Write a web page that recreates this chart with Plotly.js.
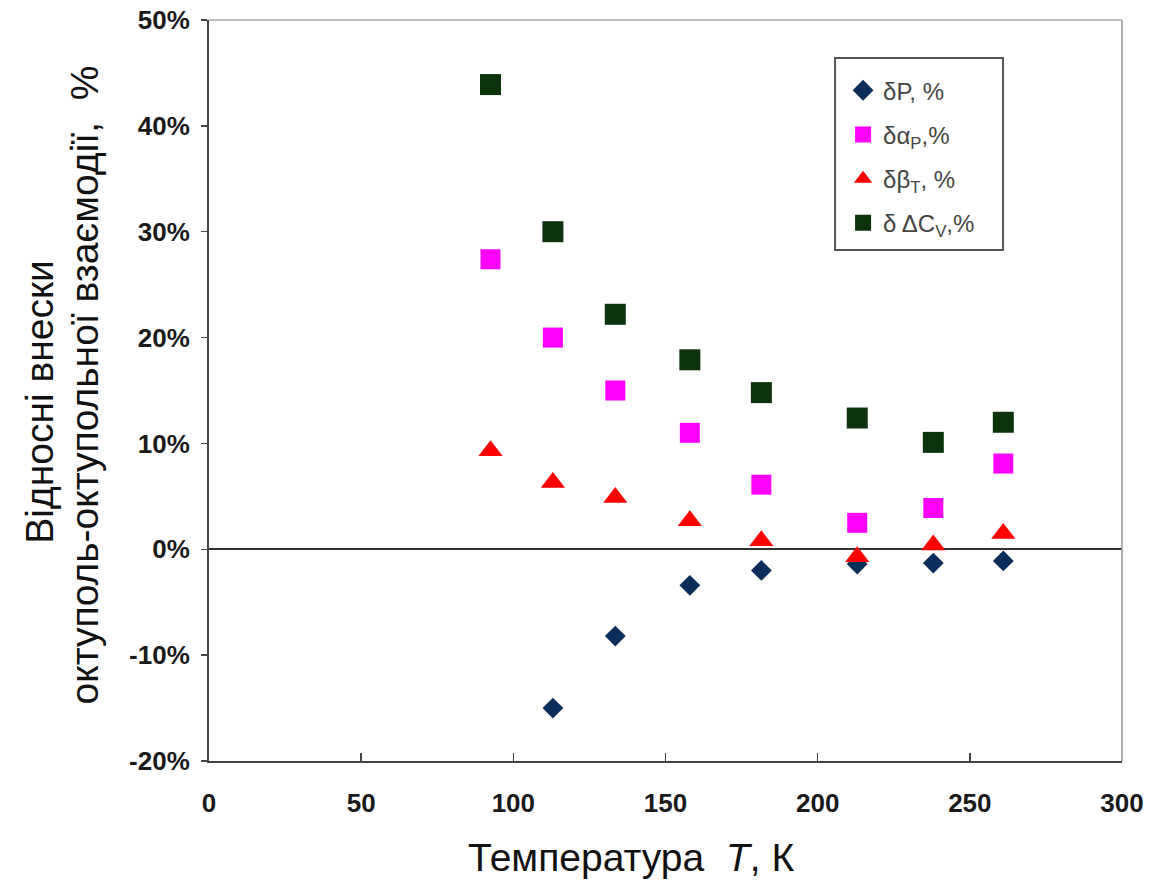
<!DOCTYPE html>
<html>
<head>
<meta charset="utf-8">
<script src="https://cdn.plot.ly/plotly-3.0.1.min.js"></script>
<style>html,body{margin:0;padding:0;background:#fff;}#chart{width:1156px;height:881px;}</style>
</head>
<body>
<div id="chart"></div>
<script>
// Temperatures, K
var temperature = [92.5, 113, 133.5, 158, 181.5, 213, 238, 261];
// Relative contributions, %
var deltaP      = [null, -15.0, -8.2, -3.4, -2.0, -1.4, -1.3, -1.1];
var deltaAlphaP = [27.4, 20.0, 15.0, 11.0, 6.1, 2.5, 3.9, 8.1];
var deltaBetaT  = [9.3, 6.3, 4.9, 2.7, 0.8, -0.7, 0.4, 1.5];
var deltaDCv    = [43.9, 30.0, 22.2, 17.9, 14.8, 12.4, 10.1, 12.0];

var seriesNames = ['δP, %', 'δα<sub>P</sub>,%', 'δβ<sub>T</sub>, %', 'δ ΔC<sub>V</sub>,%'];

var yTickVals = [-20, -10, 0, 10, 20, 30, 40, 50];
var yTickText = ['-20%', '-10%', '0%', '10%', '20%', '30%', '40%', '50%'];
var xTickVals = [0, 50, 100, 150, 200, 250, 300];

var traces = [
  {x: temperature, y: deltaP, name: seriesNames[0], legendgroup: 'a', type: 'scatter', mode: 'markers',
   marker: {symbol: 'diamond', size: 16, color: '#0a2d5a'}},
  {x: temperature, y: deltaAlphaP, name: seriesNames[1], legendgroup: 'b', type: 'scatter', mode: 'markers',
   marker: {symbol: 'square', size: 20, color: '#ff00ff'}},
  {x: temperature, y: deltaBetaT, name: seriesNames[2], legendgroup: 'c', type: 'scatter', mode: 'markers',
   marker: {symbol: 'triangle-up', size: 21, color: '#ff0000'}},
  {x: temperature, y: deltaDCv, name: seriesNames[3], legendgroup: 'd', type: 'scatter', mode: 'markers',
   marker: {symbol: 'square', size: 21, color: '#0d330d'}}
];

var tickFont = {family: '"Liberation Sans", Arial, sans-serif', size: 26, color: '#1a1a1a', weight: 'bold'};
var titleFont = {family: '"Liberation Sans", Arial, sans-serif', size: 39, color: '#111'};

var layout = {
  width: 1156, height: 881,
  margin: {l: 209, r: 34, t: 20, b: 120},
  paper_bgcolor: '#fff', plot_bgcolor: '#fff',
  showlegend: true,
  legend: {
    x: 0.6945, y: 0.935, xanchor: 'left', yanchor: 'top',
    bgcolor: 'rgba(0,0,0,0)', borderwidth: 0,
    font: {family: '"Liberation Sans", Arial, sans-serif', size: 24, color: '#444'},
    traceorder: 'grouped', tracegroupgap: 10,
    itemwidth: 30
  },
  xaxis: {
    range: [0, 300], tickvals: xTickVals,
    showgrid: false, zeroline: false,
    showline: true, linecolor: '#444', linewidth: 2,
    ticks: 'inside', ticklen: 8, tickcolor: '#444', tickwidth: 1.5,
    tickfont: tickFont, ticklabelstandoff: 18
  },
  yaxis: {
    range: [-20, 50], tickvals: yTickVals, ticktext: yTickText,
    showgrid: false,
    zeroline: true, zerolinecolor: '#333', zerolinewidth: 2,
    showline: true, linecolor: '#444', linewidth: 2,
    ticks: 'outside', ticklen: 6, tickcolor: '#444', tickwidth: 1.5,
    tickfont: tickFont, ticklabelstandoff: 6
  },
  shapes: [
    {type: 'line', xref: 'paper', yref: 'paper', x0: 0, x1: 1, y0: 1, y1: 1, line: {color: '#aaa', width: 1.5}},
    {type: 'line', xref: 'paper', yref: 'paper', x0: 1, x1: 1, y0: 0, y1: 1, line: {color: '#999', width: 1.5}},
    {type: 'rect', xref: 'paper', yref: 'paper', x0: 0.6857, x1: 0.8697, y0: 0.6896, y1: 0.9487,
     line: {color: '#555', width: 2}, fillcolor: 'rgba(0,0,0,0)', layer: 'above'}
  ],
  annotations: [
    {text: 'Відносні внески', xref: 'paper', yref: 'paper',
     x: -0.185, y: 0.485, xanchor: 'center', yanchor: 'middle', textangle: -90, showarrow: false,
     font: titleFont},
    {text: 'октуполь-октупольної взаємодії,\u00a0\u00a0%', xref: 'paper', yref: 'paper',
     x: -0.136, y: 0.508, xanchor: 'center', yanchor: 'middle', textangle: -90, showarrow: false,
     font: titleFont},
    {text: 'Температура\u00a0\u00a0<i>T</i>, К', xref: 'paper', yref: 'paper',
     x: 0.462, y: -0.13, xanchor: 'center', yanchor: 'middle', showarrow: false,
     font: titleFont}
  ]
};

Plotly.newPlot('chart', traces, layout, {displayModeBar: false, staticPlot: true});
</script>
</body>
</html>
